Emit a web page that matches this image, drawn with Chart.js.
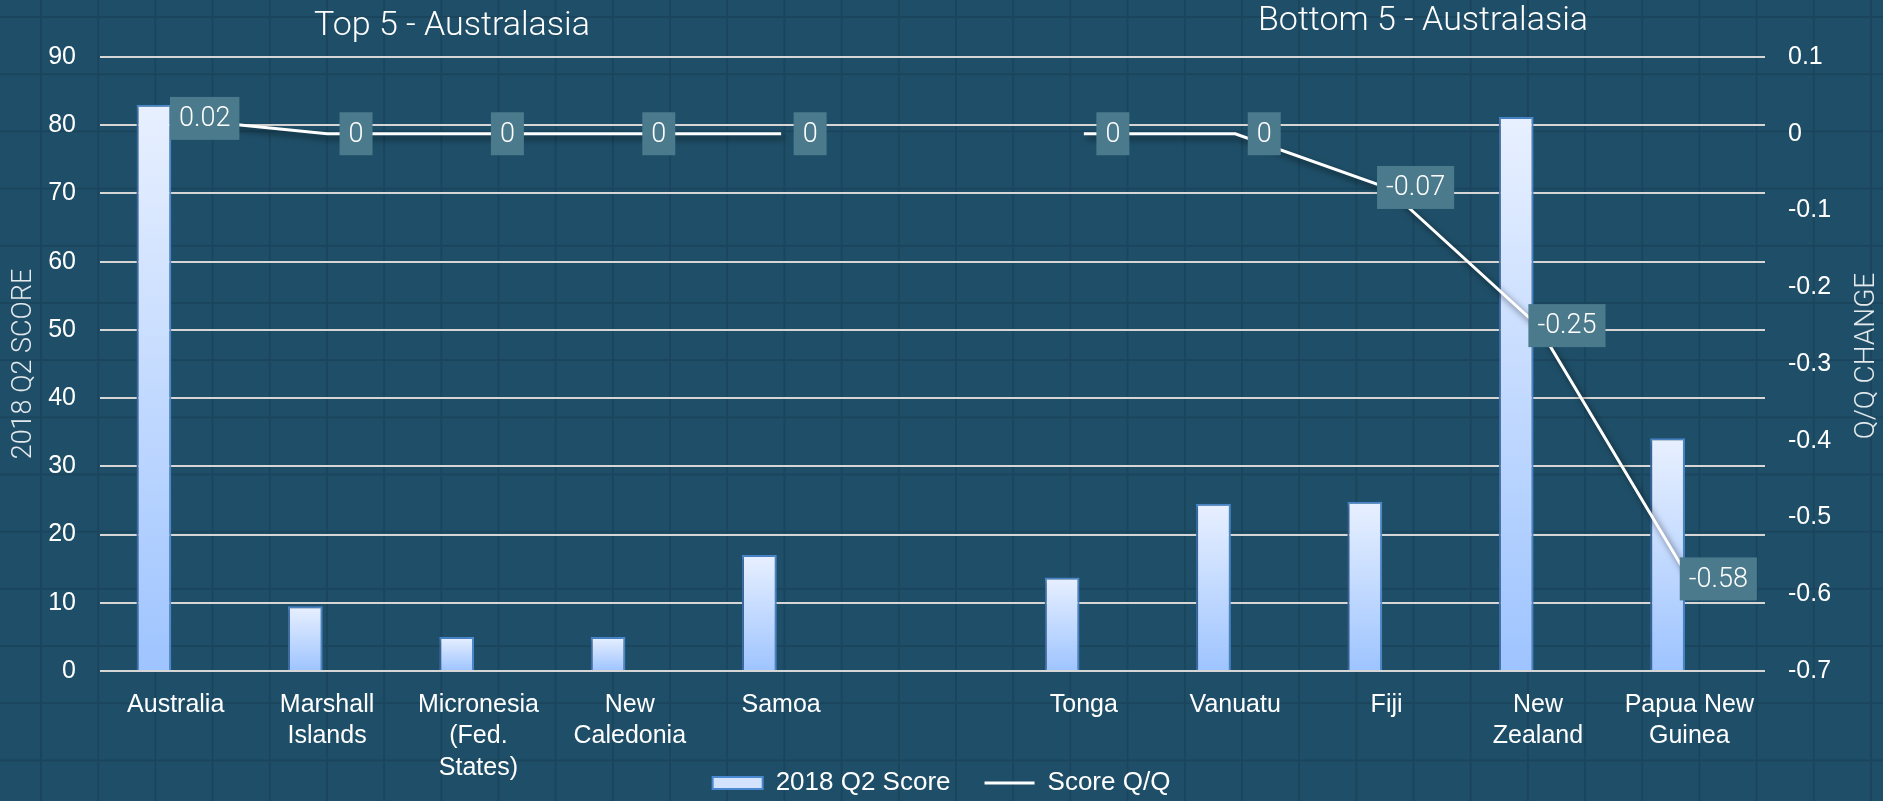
<!DOCTYPE html>
<html>
<head>
<meta charset="utf-8">
<script src="https://cdn.jsdelivr.net/npm/chart.js@4.4.1/dist/chart.umd.min.js"></script>
<style>
  html, body { margin: 0; padding: 0; }
  body {
    width: 1883px; height: 801px; overflow: hidden;
    background-color: #1f4f68;
    background-image:
      linear-gradient(to right, #1a455d 2px, transparent 2px),
      linear-gradient(to bottom, #1a455d 2px, transparent 2px);
    background-size: 57.2px 57.2px;
    background-position: 40px 16px;
  }
  #wrap { position: relative; width: 1883px; height: 801px; }
</style>
</head>
<body>
<div id="wrap"><canvas id="chart"></canvas></div>
<script>
    // data
    const categories = ['Australia', ['Marshall', 'Islands'], ['Micronesia', '(Fed.', 'States)'], ['New', 'Caledonia'], 'Samoa', '',
        'Tonga', 'Vanuatu', 'Fiji', ['New', 'Zealand'], ['Papua New', 'Guinea']];
    const scores = [83, 9.5, 5, 5, 17, null, 13.7, 24.5, 24.8, 81.2, 34.1];
    const qqChange = [0.02, 0, 0, 0, 0, null, 0, 0, -0.07, -0.25, -0.58];
    const panelTitles = ['Top 5 - Australasia', 'Bottom 5 - Australasia'];
    const seriesNames = ['2018 Q2 Score', 'Score Q/Q'];
    const axisTitles = ['2018 Q2 SCORE', 'Q/Q CHANGE'];

    const slab = 'Roboto';
    const sans = '"Liberation Sans", Arial, sans-serif';
    const padBottom = -5;

    function barGradient(ctx) {
        const chart = ctx.chart;
        if (!chart.chartArea || ctx.raw == null) return '#cfe0fb';
        const y = chart.scales.y;
        const top = y.getPixelForValue(ctx.raw), base = y.getPixelForValue(0);
        const g = chart.ctx.createLinearGradient(0, top, 0, base);
        g.addColorStop(0, '#e8f0ff');
        g.addColorStop(1, '#9ec4ff');
        return g;
    }

    const lineShadow = {
        id: 'lineShadow',
        beforeDatasetDraw(chart, args) {
            const ctx = chart.ctx;
            ctx.save();
            if (args.meta.type === 'line') {
                ctx.shadowColor = 'rgba(0,0,0,0.6)';
                ctx.shadowBlur = 6;
                ctx.shadowOffsetX = 3;
                ctx.shadowOffsetY = 4;
            } else {
                ctx.shadowColor = 'rgba(0,0,0,0.35)';
                ctx.shadowBlur = 4;
                ctx.shadowOffsetX = -2;
                ctx.shadowOffsetY = 1;
            }
        },
        afterDatasetDraw(chart) { chart.ctx.restore(); }
    };

    const extras = {
        id: 'extras',
        afterDatasetsDraw(chart) {
            const ctx = chart.ctx, area = chart.chartArea;
            // boxed labels on the line
            const meta = chart.getDatasetMeta(2);
            ctx.save();
            ctx.font = '300 27px ' + slab;
            ctx.textAlign = 'center';
            ctx.textBaseline = 'middle';
            meta.data.forEach((pt, i) => {
                const v = qqChange[i];
                if (v == null) return;
                const txt = String(v);
                const w = ctx.measureText(txt).width + 18, h = 43;
                const cx = pt.x + 29, cy = pt.y;
                ctx.fillStyle = '#4a7a8c';
                ctx.fillRect(cx - w / 2, cy - h / 2, w, h);
                ctx.fillStyle = '#ffffff';
                ctx.fillText(txt, cx, cy + 1);
            });
            // panel titles
            ctx.font = '300 34px ' + slab;
            ctx.textBaseline = 'alphabetic';
            ctx.fillStyle = '#ffffff';
            ctx.fillText(panelTitles[0], area.left + area.width * 0.2114, 35);
            ctx.fillText(panelTitles[1], area.left + area.width * 0.7946, 30);
            // right axis title, reading bottom to top
            ctx.font = '300 28px ' + slab;
            ctx.fillStyle = '#e3e9ec';
            ctx.textBaseline = 'middle';
            ctx.translate(chart.width - 16, (area.top + area.bottom) / 2 - 8);
            ctx.rotate(-Math.PI / 2);
            ctx.fillText(axisTitles[1], 0, 0);
            ctx.restore();
        }
    };

    new Chart(document.getElementById('chart'), {
        type: 'bar',
        data: {
            labels: categories,
            datasets: [
                { label: seriesNames[0], data: scores, yAxisID: 'y', order: 1,
                  backgroundColor: barGradient, borderColor: '#4a89cf', borderWidth: 2,
                  categoryPercentage: 0.575, barPercentage: 0.8 },
                { label: 'spacer', data: scores.map(() => null), yAxisID: 'y', order: 1,
                  categoryPercentage: 0.575, barPercentage: 0.8 },
                { type: 'line', label: seriesNames[1], data: qqChange, yAxisID: 'y2', order: 0,
                  borderColor: '#ffffff', backgroundColor: '#ffffff', borderWidth: 3,
                  pointRadius: 0, tension: 0, spanGaps: false }
            ]
        },
        options: {
            responsive: true,
            maintainAspectRatio: false,
            animation: false,
            layout: { padding: { top: 57, left: 0, right: 0, bottom: padBottom } },
            plugins: {
                tooltip: { enabled: false },
                legend: {
                    position: 'bottom',
                    labels: {
                        color: '#ffffff',
                        font: { family: sans, size: 26 },
                        usePointStyle: true,
                        pointStyleWidth: 50,
                        boxHeight: 12,
                        padding: 34,
                        filter: item => item.datasetIndex !== 1,
                        sort: (a, b) => a.datasetIndex - b.datasetIndex,
                        generateLabels: chart => chart.data.datasets.map((ds, i) => ({
                            text: ds.label,
                            datasetIndex: i,
                            fillStyle: '#d3e3fd',
                            strokeStyle: i === 2 ? '#ffffff' : '#4a89cf',
                            lineWidth: i === 2 ? 3 : 2,
                            pointStyle: i === 2 ? 'line' : 'rect',
                            fontColor: '#ffffff',
                            hidden: false
                        }))
                    }
                }
            },
            scales: {
                x: {
                    grid: { display: false, drawTicks: false },
                    border: { display: false },
                    ticks: { color: '#ffffff', font: { family: sans, size: 25, lineHeight: 1.26 },
                             padding: 18, maxRotation: 0, autoSkip: false },
                    afterFit: s => {
                        s.height = s.chart.height - padBottom - 671 - (s.chart.legend ? s.chart.legend.height : 0);
                        s._computeLabelArea = () => null; // let the 3-line labels run past the box
                    }
                },
                y: {
                    position: 'left', min: 0, max: 90,
                    grid: { color: '#d6d6d6', lineWidth: 2, drawTicks: false },
                    border: { display: false },
                    ticks: { stepSize: 10, color: '#ffffff', font: { family: sans, size: 25 }, padding: 24 },
                    title: { display: true, text: axisTitles[0], color: '#e3e9ec',
                             font: { family: slab, size: 27, weight: '300' }, padding: { top: 8, bottom: 0 } },
                    afterFit: s => { s.width = 100; }
                },
                y2: {
                    position: 'right', min: -0.7, max: 0.1,
                    grid: { display: false, drawTicks: false },
                    border: { display: false },
                    ticks: { stepSize: 0.1, color: '#ffffff', font: { family: sans, size: 25 }, padding: 23,
                             callback: v => String(Math.round(v * 10) / 10) },
                    afterFit: s => { s.width = 118; }
                }
            }
        },
        plugins: [lineShadow, extras]
    });
</script>
</body>
</html>
